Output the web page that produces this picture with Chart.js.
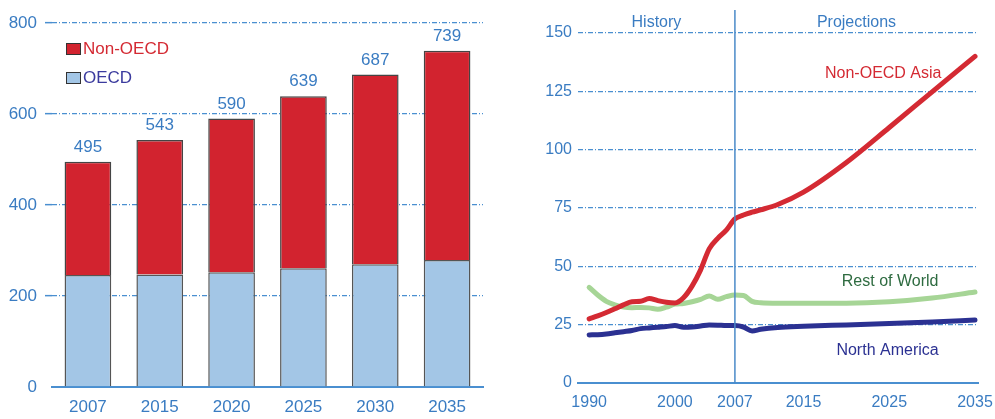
<!DOCTYPE html>
<html lang="en">
<head>
<meta charset="UTF-8">
<title>World energy consumption</title>
<style>
    body { margin: 0; background: #fff; }
    .wrap { position: relative; width: 995px; height: 419px; overflow: hidden; }
    #barChart { position: absolute; left: 0; top: 0; }
    #lineChart { position: absolute; left: 520px; top: 0; }
</style>
</head>
<body>
<div class="wrap">
    <canvas id="barChart" width="495" height="419"></canvas>
    <canvas id="lineChart" width="475" height="419"></canvas>
</div>

<script src="https://cdn.jsdelivr.net/npm/chart.js@4.4.9/dist/chart.umd.min.js"></script>
<script>
    // left panel: stacked bars
    const barYears = ['2007', '2015', '2020', '2025', '2030', '2035'];
    const oecd = [246, 247, 252, 261, 270, 279];
    const nonOecd = [249, 296, 338, 378, 417, 460];
    const barTicks = [0, 200, 400, 600, 800];

    // right panel: lines
    const years = [1990, 1991, 1992, 1993, 1994, 1995, 1996, 1997, 1998, 1999, 2000,
        2001, 2002, 2003, 2004, 2005, 2006, 2007, 2008, 2009, 2010, 2012, 2015,
        2020, 2025, 2030, 2035];
    const asia = [27.5, 28.8, 30.2, 31.8, 33.5, 34.8, 35.0, 36.2, 35.3, 34.6, 34.3,
        36.5, 41.5, 48.5, 57.5, 62.0, 65.5, 70.3, 72.0, 73.2, 74.2, 76.5, 81.8,
        94.5, 109.5, 124.8, 140.0];
    const restOfWorld = [41.0, 37.7, 35.0, 33.5, 32.6, 32.3, 32.4, 32.2, 31.6, 32.5, 33.8,
        34.1, 34.8, 35.8, 37.3, 35.9, 37.0, 37.7, 37.5, 35.0, 34.4, 34.2, 34.2,
        34.2, 34.8, 36.4, 39.0];
    const northAmerica = [20.6, 20.7, 21.0, 21.5, 22.0, 22.5, 23.3, 23.6, 23.9, 24.2, 24.6,
        23.9, 24.0, 24.4, 24.9, 24.8, 24.6, 24.6, 24.0, 22.3, 23.0, 23.8, 24.3,
        24.9, 25.5, 26.1, 27.0];
    const lineTicks = [0, 25, 50, 75, 100, 125, 150];
    const yearTicks = [1990, 2000, 2007, 2015, 2025, 2035];
    const splitYear = 2007;

    const lineLabels = [
        { text: 'Non-OECD Asia', x: 2024.3, y: 132.7, color: '#d42a33' },
        { text: 'Rest of World', x: 2025.1, y: 43.4, color: '#2e6b40' },
        { text: 'North America', x: 2024.8, y: 13.7, color: '#2b3192' }
    ];

    const FONT = '"Liberation Sans", Arial, sans-serif';
    const BLUE_TEXT = '#3a7cc2';
    const GRID_BLUE = '#4a8fd0';
    const RED = '#d2232f';
    const LIGHT_BLUE = '#a3c6e6';

    // ---------- bar chart ----------
    const totalsPlugin = {
        id: 'totals',
        afterDatasetsDraw(chart) {
            const ctx = chart.ctx;
            const meta = chart.getDatasetMeta(1);
            const yScale = chart.scales.y;
            ctx.save();
            ctx.font = '17px ' + FONT;
            ctx.fillStyle = BLUE_TEXT;
            ctx.textAlign = 'center';
            ctx.textBaseline = 'bottom';
            meta.data.forEach((bar, i) => {
                const total = oecd[i] + nonOecd[i];
                ctx.fillText(String(total), bar.x, yScale.getPixelForValue(total) - 6);
            });
            ctx.restore();
        }
    };

    const barLegendPlugin = {
        id: 'barLegend',
        afterDraw(chart) {
            const ctx = chart.ctx;
            const a = chart.chartArea;
            const items = [
                { label: 'Non-OECD', fill: RED, text: '#d42a33' },
                { label: 'OECD', fill: LIGHT_BLUE, text: '#3b3b9e' }
            ];
            ctx.save();
            ctx.font = '17px ' + FONT;
            ctx.textBaseline = 'middle';
            items.forEach((it, i) => {
                const bx = a.left + 14;
                const by = a.top + 20 + i * 29;
                ctx.fillStyle = it.fill;
                ctx.fillRect(bx, by, 15, 12);
                ctx.strokeStyle = '#333';
                ctx.lineWidth = 1;
                ctx.strokeRect(bx + 0.5, by + 0.5, 14, 11);
                ctx.fillStyle = it.text;
                ctx.fillText(it.label, bx + 17, by + 6);
            });
            ctx.restore();
        }
    };

    new Chart(document.getElementById('barChart'), {
        type: 'bar',
        data: {
            labels: barYears,
            datasets: [{
                label: 'OECD',
                data: oecd,
                backgroundColor: LIGHT_BLUE,
                borderColor: '#555',
                borderWidth: 1.5
            }, {
                label: 'Non-OECD',
                data: nonOecd,
                backgroundColor: RED,
                borderColor: '#444',
                borderWidth: 1.5
            }]
        },
        options: {
            responsive: false,
            animation: false,
            layout: { padding: { top: 23, right: 12, left: 0, bottom: 0 } },
            datasets: { bar: { categoryPercentage: 1, barPercentage: 0.65 } },
            scales: {
                x: {
                    stacked: true,
                    grid: { display: false, drawTicks: false },
                    border: { display: true, color: GRID_BLUE, width: 2 },
                    ticks: { color: BLUE_TEXT, font: { family: FONT, size: 17 }, padding: 10 },
                    afterFit: s => { s.height = 32; s.paddingLeft = 0; s.paddingRight = 0; }
                },
                y: {
                    stacked: true,
                    min: 0,
                    max: 800,
                    afterBuildTicks: s => { s.ticks = barTicks.map(v => ({ value: v })); },
                    ticks: { color: BLUE_TEXT, font: { family: FONT, size: 17 }, padding: 8 },
                    grid: {
                        color: c => c.tick && c.tick.value === 0 ? 'rgba(0,0,0,0)' : GRID_BLUE,
                        tickColor: c => c.tick && c.tick.value === 0 ? 'rgba(0,0,0,0)' : GRID_BLUE,
                        lineWidth: 1.3,
                        tickWidth: 1.5,
                        tickLength: 7,
                        drawTicks: true
                    },
                    border: { display: false, dash: [5, 2, 1, 2] },
                    afterFit: s => { s.width = 52; s.paddingTop = 0; s.paddingBottom = 0; }
                }
            },
            plugins: {
                legend: { display: false },
                tooltip: { enabled: false }
            }
        },
        plugins: [totalsPlugin, barLegendPlugin]
    });

    // ---------- line chart ----------
    const historyPlugin = {
        id: 'history',
        afterDatasetsDraw(chart) {
            const ctx = chart.ctx;
            const a = chart.chartArea;
            const xs = chart.scales.x;
            const ys = chart.scales.y;
            const xSplit = xs.getPixelForValue(splitYear);
            ctx.save();
            ctx.strokeStyle = '#4a8ac8';
            ctx.lineWidth = 1.5;
            ctx.beginPath();
            ctx.moveTo(xSplit, 10);
            ctx.lineTo(xSplit, a.bottom);
            ctx.stroke();

            ctx.font = '16px ' + FONT;
            ctx.textAlign = 'center';
            ctx.textBaseline = 'middle';
            ctx.fillStyle = BLUE_TEXT;
            ctx.fillText('History', (a.left + xSplit) / 2, 23);
            ctx.fillText('Projections', (xSplit + a.right) / 2, 23);

            lineLabels.forEach(l => {
                ctx.fillStyle = l.color;
                ctx.fillText(l.text, xs.getPixelForValue(l.x), ys.getPixelForValue(l.y));
            });
            ctx.restore();
        }
    };

    const toPoints = arr => arr.map((v, i) => ({ x: years[i], y: v }));

    new Chart(document.getElementById('lineChart'), {
        type: 'line',
        data: {
            datasets: [{
                label: 'Non-OECD Asia',
                data: toPoints(asia),
                borderColor: '#d42a33',
                borderWidth: 5
            }, {
                label: 'Rest of World',
                data: toPoints(restOfWorld),
                borderColor: '#a6d596',
                borderWidth: 5
            }, {
                label: 'North America',
                data: toPoints(northAmerica),
                borderColor: '#2b3192',
                borderWidth: 5
            }]
        },
        options: {
            responsive: false,
            animation: false,
            layout: { padding: { top: 33, right: 17, left: 0, bottom: 0 } },
            elements: {
                point: { radius: 0 },
                line: { cubicInterpolationMode: 'monotone', borderCapStyle: 'round', borderJoinStyle: 'round' }
            },
            scales: {
                x: {
                    type: 'linear',
                    min: 1988.7,
                    max: 2035.35,
                    afterBuildTicks: s => { s.ticks = yearTicks.map(v => ({ value: v })); },
                    grid: { display: false, drawTicks: false },
                    border: { display: true, color: GRID_BLUE, width: 2 },
                    ticks: {
                        color: BLUE_TEXT,
                        font: { family: FONT, size: 16 },
                        padding: 10,
                        maxRotation: 0,
                        autoSkip: false,
                        callback: v => String(v)
                    },
                    afterFit: s => { s.height = 36; s.paddingLeft = 0; s.paddingRight = 0; }
                },
                y: {
                    min: 0,
                    max: 150,
                    afterBuildTicks: s => { s.ticks = lineTicks.map(v => ({ value: v })); },
                    ticks: { color: BLUE_TEXT, font: { family: FONT, size: 16 }, padding: 6 },
                    grid: {
                        color: c => c.tick && c.tick.value === 0 ? 'rgba(0,0,0,0)' : GRID_BLUE,
                        lineWidth: 1.3,
                        drawTicks: false
                    },
                    border: { display: false, dash: [5, 2, 1, 2] },
                    afterFit: s => { s.width = 58; s.paddingTop = 0; s.paddingBottom = 0; }
                }
            },
            plugins: {
                legend: { display: false },
                tooltip: { enabled: false }
            }
        },
        plugins: [historyPlugin]
    });
</script>
</body>
</html>
